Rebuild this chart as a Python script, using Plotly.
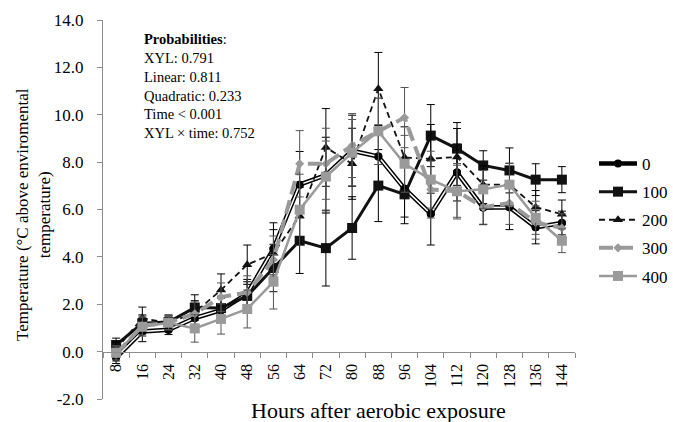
import plotly.graph_objects as go

hours = ["8", "16", "24", "32", "40", "48", "56", "64", "72", "80", "88", "96",
         "104", "112", "120", "128", "136", "144"]

xyl_0 = [-0.25, 0.85, 0.92, 1.42, 1.75, 2.45, 4.34, 7.05, 7.45, 8.48, 8.24, 6.88, 5.82, 7.56, 6.08, 6.10, 5.25, 5.43]
xyl_100 = [0.28, 1.20, 1.25, 1.86, 1.84, 2.35, 3.53, 4.68, 4.37, 5.22, 7.01, 6.64, 9.12, 8.57, 7.86, 7.65, 7.26, 7.26]
xyl_200 = [0.10, 1.42, 1.20, 1.65, 2.60, 3.67, 4.15, 5.73, 8.62, 7.93, 11.10, 8.19, 8.14, 8.22, 7.05, 7.05, 6.10, 5.80]
xyl_300 = [-0.10, 1.10, 1.22, 1.60, 2.30, 2.50, 3.88, 7.93, 7.93, 8.70, 9.30, 9.88, 6.84, 6.77, 6.10, 6.27, 5.45, 5.22]
xyl_400 = [-0.05, 1.05, 1.22, 0.98, 1.38, 1.80, 2.95, 5.99, 7.39, 8.40, 9.30, 7.93, 7.26, 6.77, 6.85, 7.05, 5.65, 4.68]

err_0 = [0.25, 0.43, 0.20, 0.40, 0.50, 0.60, 1.10, 1.40, 1.60, 1.50, 1.30, 1.20, 1.32, 1.20, 0.72, 0.95, 0.70, 0.50]
err_100 = [0.29, 0.35, 0.30, 0.54, 0.50, 0.60, 1.00, 1.38, 1.60, 1.32, 1.52, 1.24, 1.31, 1.10, 0.62, 0.95, 0.67, 0.55]
err_200 = [0.30, 0.46, 0.30, 0.50, 0.68, 0.83, 1.00, 1.20, 1.64, 1.50, 1.53, 1.30, 1.45, 1.20, 0.80, 0.90, 0.70, 0.60]
err_300 = [0.30, 0.40, 0.30, 0.50, 0.60, 0.70, 1.00, 1.40, 1.50, 1.35, 1.40, 1.27, 1.20, 1.10, 0.72, 0.90, 0.70, 0.60]
err_400 = [0.30, 0.40, 0.30, 0.58, 0.64, 0.80, 1.15, 1.50, 1.50, 1.40, 1.40, 1.20, 1.20, 1.17, 0.80, 0.90, 0.70, 0.50]

y_ticks = [-2, 0, 2, 4, 6, 8, 10, 12, 14]
y_tick_labels = ["-2.0", "0.0", "2.0", "4.0", "6.0", "8.0", "10.0", "12.0", "14.0"]

prob_lines = ["<b>Probabilities</b>:", "XYL: 0.791", "Linear: 0.811", "Quadratic: 0.233",
              "Time < 0.001", "XYL × time: 0.752"]

FONT = "Liberation Serif"
GRAY = "#9a9a9a"

fig = go.Figure()

def eb(arr, color):
    return dict(type="data", array=arr, visible=True, color=color, thickness=1, width=4)

# Series 0: double line (black outer, white inner)
fig.add_trace(go.Scatter(x=hours, y=xyl_0, mode="lines+markers", name="0", legendgroup="g0",
                         line=dict(color="black", width=4.5),
                         marker=dict(symbol="circle", size=8, color="black"),
                         error_y=eb(err_0, "black")))
fig.add_trace(go.Scatter(x=hours, y=xyl_0, mode="lines", showlegend=False, legendgroup="g0",
                         line=dict(color="white", width=1.5), hoverinfo="skip"))
fig.add_trace(go.Scatter(x=hours, y=xyl_0, mode="markers", showlegend=False, legendgroup="g0",
                         marker=dict(symbol="circle", size=8, color="black")))

fig.add_trace(go.Scatter(x=hours, y=xyl_100, mode="lines+markers", name="100", legendgroup="g1",
                         line=dict(color="#111111", width=3),
                         marker=dict(symbol="square", size=10, color="#111111"),
                         error_y=eb(err_100, "black")))

fig.add_trace(go.Scatter(x=hours, y=xyl_200, mode="lines+markers", name="200", legendgroup="g2",
                         line=dict(color="#111111", width=1.8, dash="6px,4px"),
                         marker=dict(symbol="triangle-up", size=9, color="#111111"),
                         error_y=eb(err_200, "black")))

fig.add_trace(go.Scatter(x=hours, y=xyl_300, mode="lines+markers", name="300", legendgroup="g3",
                         line=dict(color=GRAY, width=4, dash="14px,6px"),
                         marker=dict(symbol="diamond", size=7, color=GRAY),
                         error_y=eb(err_300, "#555555")))

fig.add_trace(go.Scatter(x=hours, y=xyl_400, mode="lines+markers", name="400", legendgroup="g4",
                         line=dict(color=GRAY, width=2.5),
                         marker=dict(symbol="square", size=10, color=GRAY),
                         error_y=eb(err_400, "#555555")))

W, H = 673, 422
L, R, T, B = 103, 98, 20, 23
pw, ph = W - L - R, H - T - B

def px_x(x):
    return (x - L) / pw

def px_y(y):
    return (H - B - y) / ph

annotations = [
    dict(text="<br>".join(prob_lines), align="left",
         x=px_x(142), y=px_y(29), xref="paper", yref="paper",
         xanchor="left", yanchor="top", showarrow=False,
         font=dict(family=FONT, size=14.5, color="black")),
    dict(text="Temperature (°C above enviromental<br>temperature)", textangle=-90,
         x=px_x(33), y=px_y(215), xref="paper", yref="paper",
         xanchor="center", yanchor="middle", showarrow=False,
         font=dict(family=FONT, size=17, color="black")),
    dict(text="Hours after aerobic exposure",
         x=px_x(378), y=px_y(410), xref="paper", yref="paper",
         xanchor="center", yanchor="middle", showarrow=False,
         font=dict(family=FONT, size=22, color="black")),
]

fig.update_layout(
    width=W, height=H,
    margin=dict(l=L, r=R, t=T, b=B, pad=0, autoexpand=False),
    paper_bgcolor="white", plot_bgcolor="white",
    font=dict(family=FONT, size=16, color="black"),
    showlegend=True,
    legend=dict(x=px_x(594), y=px_y(146), xanchor="left", yanchor="top",
                traceorder="grouped", tracegroupgap=3, itemwidth=38,
                font=dict(family=FONT, size=17, color="black"),
                bgcolor="rgba(0,0,0,0)"),
    annotations=annotations,
    xaxis=dict(type="category", categoryorder="array", categoryarray=hours,
               range=[-0.5, len(hours) - 0.5],
               anchor="free", position=0.125,
               showline=True, linecolor="#8c8c8c", linewidth=1,
               ticks="outside", tickson="boundaries", ticklen=5, tickcolor="#8c8c8c",
               tickangle=-90, showgrid=False, zeroline=False, ticklabelstandoff=5,
               tickfont=dict(family=FONT, size=16, color="black")),
    yaxis=dict(range=[-2, 14], tickvals=y_ticks, ticktext=y_tick_labels,
               showline=True, linecolor="#8c8c8c", linewidth=1,
               ticks="outside", ticklen=5, tickcolor="#8c8c8c",
               showgrid=False, zeroline=False, ticklabelstandoff=10,
               tickfont=dict(family=FONT, size=17, color="black")),
)

fig.write_html("out.html")
